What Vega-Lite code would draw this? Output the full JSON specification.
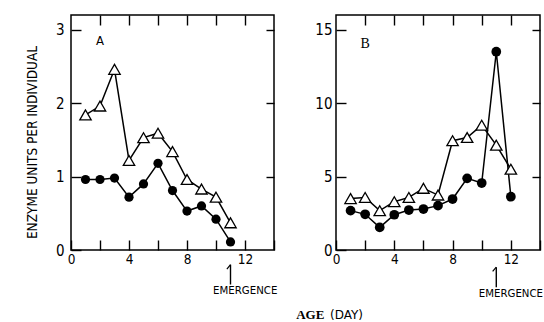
{
  "$schema": "https://vega.github.io/schema/vega-lite/v6.json",
  "background": "white",
  "padding": {"left": 24, "top": 13, "right": 2, "bottom": 4},
  "datasets": {
    "A": [
      {"day": 1, "value": 1.84, "series": "tri"},
      {"day": 2, "value": 1.96, "series": "tri"},
      {"day": 3, "value": 2.46, "series": "tri"},
      {"day": 4, "value": 1.22, "series": "tri"},
      {"day": 5, "value": 1.53, "series": "tri"},
      {"day": 6, "value": 1.59, "series": "tri"},
      {"day": 7, "value": 1.34, "series": "tri"},
      {"day": 8, "value": 0.96, "series": "tri"},
      {"day": 9, "value": 0.83, "series": "tri"},
      {"day": 10, "value": 0.72, "series": "tri"},
      {"day": 11, "value": 0.37, "series": "tri"},
      {"day": 1, "value": 0.96, "series": "circ"},
      {"day": 2, "value": 0.96, "series": "circ"},
      {"day": 3, "value": 0.98, "series": "circ"},
      {"day": 4, "value": 0.72, "series": "circ"},
      {"day": 5, "value": 0.9, "series": "circ"},
      {"day": 6, "value": 1.18, "series": "circ"},
      {"day": 7, "value": 0.81, "series": "circ"},
      {"day": 8, "value": 0.53, "series": "circ"},
      {"day": 9, "value": 0.6, "series": "circ"},
      {"day": 10, "value": 0.42, "series": "circ"},
      {"day": 11, "value": 0.11, "series": "circ"}
    ],
    "B": [
      {"day": 1, "value": 3.5, "series": "tri"},
      {"day": 2, "value": 3.58, "series": "tri"},
      {"day": 3, "value": 2.68, "series": "tri"},
      {"day": 4, "value": 3.29, "series": "tri"},
      {"day": 5, "value": 3.58, "series": "tri"},
      {"day": 6, "value": 4.2, "series": "tri"},
      {"day": 7, "value": 3.74, "series": "tri"},
      {"day": 8, "value": 7.44, "series": "tri"},
      {"day": 9, "value": 7.66, "series": "tri"},
      {"day": 10, "value": 8.5, "series": "tri"},
      {"day": 11, "value": 7.14, "series": "tri"},
      {"day": 12, "value": 5.5, "series": "tri"},
      {"day": 1, "value": 2.68, "series": "circ"},
      {"day": 2, "value": 2.43, "series": "circ"},
      {"day": 3, "value": 1.54, "series": "circ"},
      {"day": 4, "value": 2.4, "series": "circ"},
      {"day": 5, "value": 2.72, "series": "circ"},
      {"day": 6, "value": 2.79, "series": "circ"},
      {"day": 7, "value": 3.02, "series": "circ"},
      {"day": 8, "value": 3.47, "series": "circ"},
      {"day": 9, "value": 4.88, "series": "circ"},
      {"day": 10, "value": 4.56, "series": "circ"},
      {"day": 11, "value": 13.5, "series": "circ"},
      {"day": 12, "value": 3.63, "series": "circ"}
    ],
    "annA": [
      {"x": 11, "y": -0.2, "y2": -0.47, "bx": 10.75, "by": -0.26, "tx": 9.8, "ty": -0.565, "label": "EMERGENCE", "px": 2, "py": 2.84, "panel": "A"}
    ],
    "annB": [
      {"x": 11, "y": -1.17, "y2": -2.53, "bx": 10.75, "by": -1.45, "tx": 9.8, "ty": -3.0, "label": "EMERGENCE", "px": 2, "py": 14.0, "panel": "B"}
    ],
    "xtitleAge": [
      {"x": 16.5, "y": -0.88, "t": "AGE"}
    ],
    "xtitleDay": [
      {"x": 19.0, "y": -0.88, "t": "(DAY)"}
    ]
  },
  "hconcat": [
    {
      "width": 203,
      "height": 235,
      "layer": [
        {
          "data": {"name": "A"},
          "mark": {"type": "line", "color": "black", "strokeWidth": 1.5},
          "encoding": {
            "x": {"field": "day", "type": "quantitative", "scale": {"domain": [0, 14], "nice": false},
              "axis": {"orient": "bottom", "values": [0, 2, 4, 6, 8, 10, 12, 14], "labelExpr": "(datum.value % 4 == 0 && datum.value <= 12) ? datum.label : ''", "title": null}},
            "y": {"field": "value", "type": "quantitative", "scale": {"domain": [0, 3.2], "nice": false},
              "axis": {"orient": "left", "values": [0, 1, 2, 3], "title": "ENZYME UNITS PER INDIVIDUAL", "titleY": 127, "titlePadding": 16}},
            "detail": {"field": "series"}
          }
        },
        {
          "data": {"name": "A"},
          "transform": [{"filter": "datum.series == 'tri'"}],
          "mark": {"type": "point", "shape": "triangle-up", "filled": true, "fill": "white", "stroke": "black", "strokeWidth": 1.3, "size": 130, "opacity": 1},
          "encoding": {
            "x": {"field": "day", "type": "quantitative", "axis": {"orient": "top", "values": [2, 4, 6, 8, 10, 12], "labels": false, "title": null}},
            "y": {"field": "value", "type": "quantitative", "axis": {"orient": "right", "values": [1, 2, 3], "labels": false, "title": null, "tickSize": -8}}
          }
        },
        {
          "data": {"name": "A"},
          "transform": [{"filter": "datum.series == 'circ'"}],
          "mark": {"type": "point", "shape": "circle", "filled": true, "color": "black", "size": 85, "opacity": 1},
          "encoding": {
            "x": {"field": "day", "type": "quantitative", "axis": null},
            "y": {"field": "value", "type": "quantitative", "axis": null}
          }
        },
        {
          "data": {"name": "annA"},
          "mark": {"type": "rule", "color": "black", "strokeWidth": 1.4},
          "encoding": {
            "x": {"field": "x", "type": "quantitative", "axis": null},
            "y": {"field": "y", "type": "quantitative", "axis": null},
            "y2": {"field": "y2"}
          }
        },
        {
          "data": {"name": "annA"},
          "mark": {"type": "rule", "color": "black", "strokeWidth": 1.2},
          "encoding": {
            "x": {"field": "x", "type": "quantitative", "axis": null},
            "x2": {"field": "bx"},
            "y": {"field": "y", "type": "quantitative", "axis": null},
            "y2": {"field": "by"}
          }
        },
        {
          "data": {"name": "annA"},
          "mark": {"type": "text", "align": "left", "baseline": "middle", "font": "DejaVu Sans", "fontSize": 10.2, "color": "black"},
          "encoding": {
            "x": {"field": "tx", "type": "quantitative", "axis": null},
            "y": {"field": "ty", "type": "quantitative", "axis": null},
            "text": {"field": "label"}
          }
        },
        {
          "data": {"name": "annA"},
          "mark": {"type": "text", "align": "center", "baseline": "middle", "font": "DejaVu Sans Condensed", "fontSize": 13, "color": "black"},
          "encoding": {
            "x": {"field": "px", "type": "quantitative", "axis": null},
            "y": {"field": "py", "type": "quantitative", "axis": null},
            "text": {"field": "panel"}
          }
        },
        {
          "data": {"name": "xtitleAge"},
          "mark": {"type": "text", "align": "center", "baseline": "middle", "color": "black", "font": "Liberation Serif", "fontWeight": "bold", "fontSize": 13},
          "encoding": {
            "x": {"field": "x", "type": "quantitative", "axis": null},
            "y": {"field": "y", "type": "quantitative", "axis": null},
            "text": {"field": "t"}
          }
        },
        {
          "data": {"name": "xtitleDay"},
          "mark": {"type": "text", "align": "center", "baseline": "middle", "color": "black", "font": "DejaVu Sans", "fontSize": 12},
          "encoding": {
            "x": {"field": "x", "type": "quantitative", "axis": null},
            "y": {"field": "y", "type": "quantitative", "axis": null},
            "text": {"field": "t"}
          }
        }
      ],
      "resolve": {"axis": {"x": "independent", "y": "independent"}}
    },
    {
      "width": 204,
      "height": 235,
      "layer": [
        {
          "data": {"name": "B"},
          "mark": {"type": "line", "color": "black", "strokeWidth": 1.5},
          "encoding": {
            "x": {"field": "day", "type": "quantitative", "scale": {"domain": [0, 14], "nice": false},
              "axis": {"orient": "bottom", "values": [0, 2, 4, 6, 8, 10, 12, 14], "labelExpr": "(datum.value % 4 == 0 && datum.value <= 12) ? datum.label : ''", "title": null}},
            "y": {"field": "value", "type": "quantitative", "scale": {"domain": [0, 16], "nice": false},
              "axis": {"orient": "left", "values": [0, 5, 10, 15], "title": null, "labelPadding": 14}},
            "detail": {"field": "series"}
          }
        },
        {
          "data": {"name": "B"},
          "transform": [{"filter": "datum.series == 'tri'"}],
          "mark": {"type": "point", "shape": "triangle-up", "filled": true, "fill": "white", "stroke": "black", "strokeWidth": 1.3, "size": 130, "opacity": 1},
          "encoding": {
            "x": {"field": "day", "type": "quantitative", "axis": {"orient": "top", "values": [2, 4, 6, 8, 10, 12], "labels": false, "title": null}},
            "y": {"field": "value", "type": "quantitative", "axis": {"orient": "right", "values": [5, 10, 15], "labels": false, "title": null, "tickSize": -8}}
          }
        },
        {
          "data": {"name": "B"},
          "transform": [{"filter": "datum.series == 'circ'"}],
          "mark": {"type": "point", "shape": "circle", "filled": true, "color": "black", "size": 95, "opacity": 1},
          "encoding": {
            "x": {"field": "day", "type": "quantitative", "axis": null},
            "y": {"field": "value", "type": "quantitative", "axis": null}
          }
        },
        {
          "data": {"name": "annB"},
          "mark": {"type": "rule", "color": "black", "strokeWidth": 1.4},
          "encoding": {
            "x": {"field": "x", "type": "quantitative", "axis": null},
            "y": {"field": "y", "type": "quantitative", "axis": null},
            "y2": {"field": "y2"}
          }
        },
        {
          "data": {"name": "annB"},
          "mark": {"type": "rule", "color": "black", "strokeWidth": 1.2},
          "encoding": {
            "x": {"field": "x", "type": "quantitative", "axis": null},
            "x2": {"field": "bx"},
            "y": {"field": "y", "type": "quantitative", "axis": null},
            "y2": {"field": "by"}
          }
        },
        {
          "data": {"name": "annB"},
          "mark": {"type": "text", "align": "left", "baseline": "middle", "font": "DejaVu Sans", "fontSize": 10.2, "color": "black"},
          "encoding": {
            "x": {"field": "tx", "type": "quantitative", "axis": null},
            "y": {"field": "ty", "type": "quantitative", "axis": null},
            "text": {"field": "label"}
          }
        },
        {
          "data": {"name": "annB"},
          "mark": {"type": "text", "align": "center", "baseline": "middle", "font": "Liberation Serif", "fontSize": 14, "color": "black"},
          "encoding": {
            "x": {"field": "px", "type": "quantitative", "axis": null},
            "y": {"field": "py", "type": "quantitative", "axis": null},
            "text": {"field": "panel"}
          }
        }
      ],
      "resolve": {"axis": {"x": "independent", "y": "independent"}}
    }
  ],
  "spacing": 62,
  "bounds": "flush",
  "config": {
    "view": {"stroke": "black", "strokeWidth": 1.5},
    "axis": {
      "domain": false,
      "grid": false,
      "ticks": true,
      "tickColor": "black",
      "tickWidth": 1.4,
      "tickSize": -10,
      "labelColor": "black",
      "labelFont": "DejaVu Sans Condensed",
      "labelFlush": false,
      "labelOverlap": false,
      "titleColor": "black",
      "titleFont": "DejaVu Sans Condensed",
      "titleFontWeight": "normal",
      "titleFontSize": 13.5
    },
    "axisX": {"labelFontSize": 13.5, "labelPadding": 12},
    "axisY": {"labelFontSize": 15, "labelPadding": 17}
  }
}
